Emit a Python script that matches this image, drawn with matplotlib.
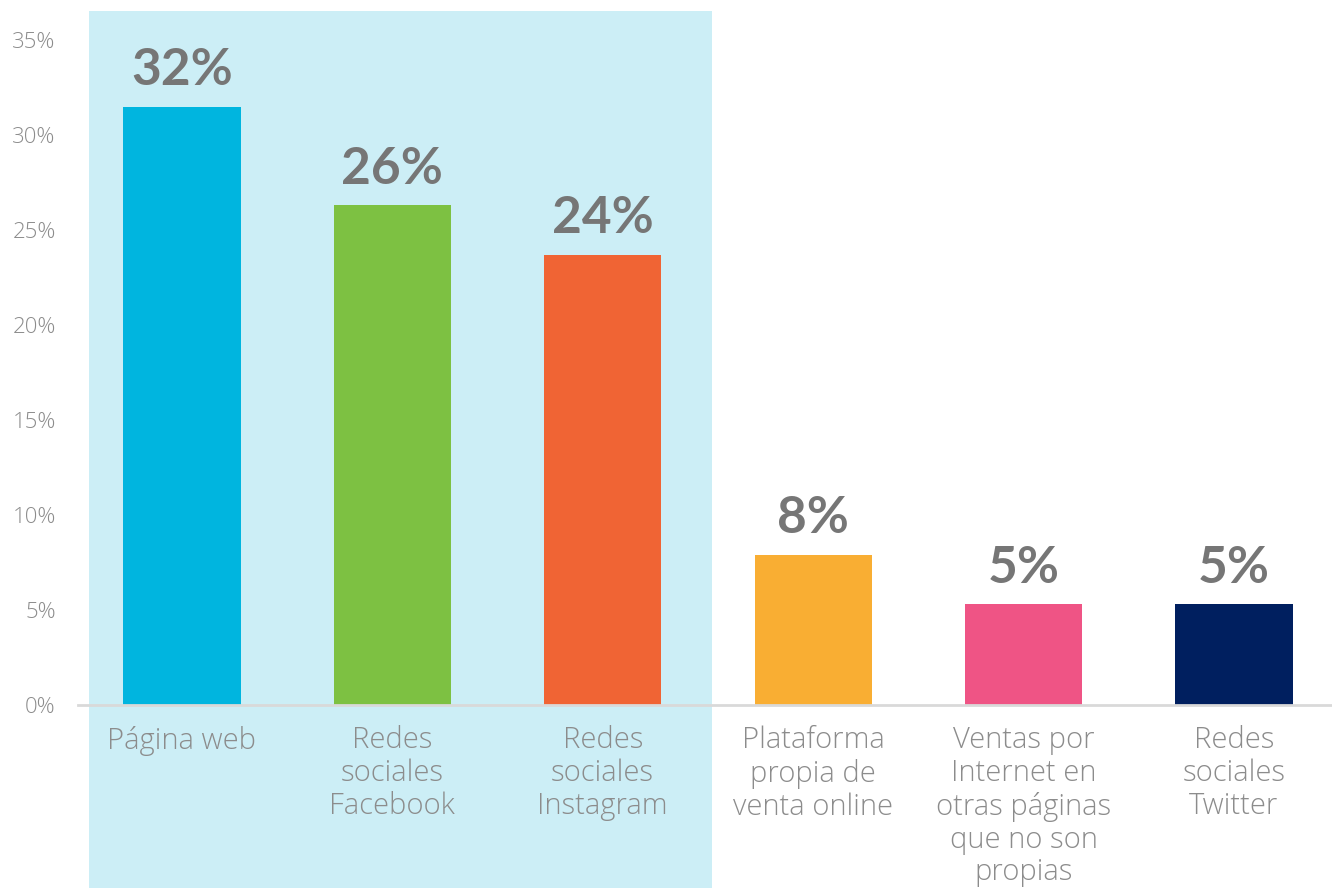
import matplotlib
matplotlib.use("Agg")
import matplotlib.pyplot as plt
from matplotlib.ticker import FuncFormatter

# data
categories = ["Página web", "Redes\nsociales\nFacebook", "Redes\nsociales\nInstagram",
              "Plataforma\npropia de\nventa online",
              "Ventas por\nInternet en\notras páginas\nque no son\npropias",
              "Redes\nsociales\nTwitter"]
values = [31.5, 26.3, 23.7, 7.9, 5.3, 5.3]
colors = ["#00B5DF", "#7DC142", "#F06434", "#F9AE33", "#EF5485", "#001F5F"]
yticks = [0, 5, 10, 15, 20, 25, 30, 35]
n_highlight = 3  # first three categories get the light blue band

plt.rcParams["font.family"] = ["Open Sans", "DejaVu Sans"]

fig = plt.figure(figsize=(13.32, 8.88), dpi=100)
ax = fig.add_axes([78 / 1332, 1 - 705 / 888, 1 - 78 / 1332, (705 - 10) / 888])
ax.set_facecolor("none")

x = list(range(len(categories)))
ax.bar(x, values, width=0.557, color=colors, zorder=3)

# highlight band behind first group, runs down under the labels
ax.axvspan(-0.44, n_highlight - 1 + 0.52, ymin=-(888 - 705) / 695, ymax=(705 - 11) / 695,
           color="#CCEEF6", zorder=0, clip_on=False, lw=0)

for xi, v in zip(x, values):
    ax.annotate(f"{v:.0f}%", (xi, v), xytext=(0, 9), textcoords="offset points",
                ha="center", va="bottom", fontsize=37, fontweight="bold",
                color="#767676", zorder=4, family=["Lato", "DejaVu Sans"])

ax.set_xlim(-0.494, 5.466)
ax.set_ylim(0, 36.58)
ax.set_yticks(yticks)
ax.yaxis.set_major_formatter(FuncFormatter(lambda v, p: f"{v:.0f}%"))
ax.set_xticks(x)
ax.set_xticklabels(categories, fontsize=21, color="#8C8C8C", linespacing=1.15,
                   fontweight="light")
ax.tick_params(axis="x", length=0, pad=15)
ax.tick_params(axis="y", length=0, pad=16, labelsize=16, labelcolor="#8C8C8C")
for lab in ax.get_yticklabels():
    lab.set_fontweight("light")

for s in ["top", "right", "left"]:
    ax.spines[s].set_visible(False)
ax.spines["bottom"].set_color("#D9D9D9")
ax.spines["bottom"].set_linewidth(2)
ax.spines["bottom"].set_zorder(5)

fig.savefig("out.png", dpi=100)
